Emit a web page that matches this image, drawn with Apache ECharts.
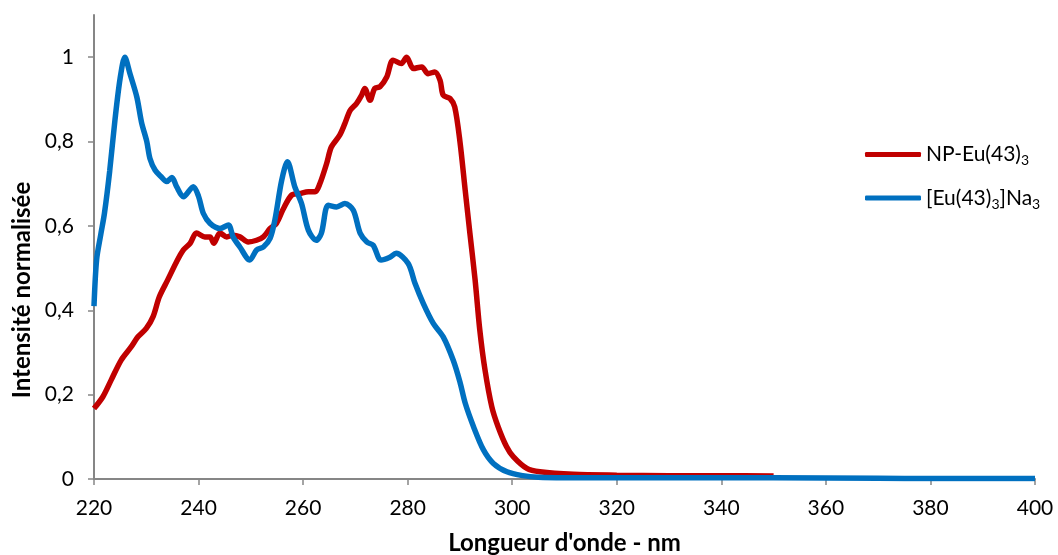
<!DOCTYPE html>
<html>
<head>
<meta charset="utf-8">
<script src="https://cdn.jsdelivr.net/npm/echarts@6/dist/echarts.min.js"></script>
<style>html,body{margin:0;padding:0;background:#fff}#c{width:1058px;height:555px}</style>
</head>
<body>
<div id="c"></div>
<script>
// NP-Eu(43)3 (red)
const redX = [220,221.7,223.3,225.2,227.1,228.4,230,231.3,232.5,234.1,235.8,237.1,238.4,239.6,241.2,242.2,242.9,244.1,245.4,246.6,247.9,249.5,251.1,252.4,253.7,254.9,256.2,257.8,259.4,261,262.3,263.2,264.5,265.4,267,268,269,270.2,271.2,271.8,272.8,273.7,274.7,276,277.2,278.8,279.8,281.1,282.7,283.9,285.2,286.2,286.8,288.1,289,290,291,291.9,292.9,293.8,294.8,296.1,297.3,298.9,300.2,302.8,305.3,311.7,320,330,340,350];
const redY = [0.167,0.195,0.235,0.282,0.313,0.337,0.357,0.385,0.432,0.472,0.515,0.543,0.559,0.583,0.574,0.574,0.559,0.583,0.574,0.578,0.574,0.562,0.566,0.574,0.594,0.606,0.64,0.673,0.677,0.681,0.681,0.70,0.748,0.787,0.815,0.843,0.874,0.89,0.91,0.926,0.898,0.926,0.93,0.953,0.993,0.985,1.0,0.973,0.977,0.961,0.965,0.945,0.91,0.902,0.882,0.80,0.685,0.583,0.472,0.353,0.258,0.171,0.124,0.077,0.053,0.025,0.017,0.011,0.009,0.008,0.008,0.007];
// [Eu(43)3]Na3 (blue)
const blueX = [220,220.5,221.3,222,223,224,225,225.9,226.9,228.2,229.1,230.1,230.7,231.7,232.9,233.9,234.9,235.8,237.1,239,240,240.9,242.2,244.1,245.7,246.6,247.9,249.8,251.1,252.4,253.7,254.6,255.9,257,258.4,259.7,261,262.5,263.5,264.8,266.4,268,269.6,270.9,272.2,273.4,274.9,276.5,277.8,280.1,281.4,283,284.9,286.8,288.7,290,291,292.6,294.5,296.4,299,302,305,310,330,350,370,380,400];
const blueY = [0.41,0.52,0.58,0.63,0.73,0.85,0.95,1.0,0.96,0.905,0.845,0.80,0.76,0.732,0.716,0.705,0.715,0.693,0.669,0.693,0.67,0.63,0.606,0.594,0.602,0.574,0.55,0.519,0.543,0.55,0.571,0.614,0.708,0.752,0.693,0.653,0.59,0.566,0.583,0.649,0.645,0.653,0.637,0.583,0.562,0.554,0.519,0.525,0.535,0.511,0.464,0.416,0.369,0.337,0.282,0.23,0.18,0.124,0.069,0.037,0.017,0.008,0.004,0.003,0.003,0.003,0.002,0.001,0.001];
const xTicks = [220,240,260,280,300,320,340,360,380,400];
const yTicks = [0,0.2,0.4,0.6,0.8,1];
const seriesNames = ['NP-Eu(43)3','[Eu(43)3]Na3'];
const legendRich = {
  'NP-Eu(43)3': '{n|NP-Eu(43)}{s|3}',
  '[Eu(43)3]Na3': '{n|[Eu(43)}{s|3}{n|]Na}{s|3}'
};

const pairs = (xs, ys) => xs.map((x, i) => [x, ys[i]]);
const FONT = 'Lato';
const chart = echarts.init(document.getElementById('c'));
chart.setOption({
  animation: false,
  backgroundColor: '#fff',
  textStyle: { fontFamily: FONT },
  grid: { left: 94, right: 23, top: 15, bottom: 76, containLabel: false, outerBoundsMode: 'none' },
  legend: {
    orient: 'vertical',
    left: 865,
    top: 144,
    padding: 0,
    itemWidth: 56,
    itemHeight: 5,
    itemGap: 20,
    icon: 'roundRect',
    data: seriesNames,
    formatter: name => legendRich[name],
    textStyle: {
      color: '#000',
      fontFamily: FONT,
      rich: {
        n: { fontSize: 21, lineHeight: 26, color: '#000', fontFamily: FONT },
        s: { fontSize: 14, lineHeight: 13, verticalAlign: 'bottom', color: '#000', fontFamily: FONT }
      }
    }
  },
  xAxis: {
    type: 'value',
    min: 220, max: 400, interval: 20,
    name: "Longueur d'onde - nm",
    nameLocation: 'middle',
    nameGap: 52,
    nameTextStyle: { fontSize: 24, fontWeight: 'bold', color: '#000', fontFamily: FONT },
    axisLine: { onZero: false, lineStyle: { color: '#868686', width: 2 } },
    axisTick: { show: true, length: 6, lineStyle: { color: '#868686', width: 1.5 } },
    axisLabel: { fontSize: 21, color: '#000', margin: 19, fontFamily: FONT, customValues: xTicks },
    splitLine: { show: false }
  },
  yAxis: {
    type: 'value',
    min: 0, max: 1.1,
    name: 'Intensité normalisée',
    nameLocation: 'middle',
    nameGap: 58,
    nameTextStyle: { fontSize: 24, fontWeight: 'bold', color: '#000', fontFamily: FONT, padding: [0, 86, 0, 0] },
    axisLine: { show: true, lineStyle: { color: '#868686', width: 2 } },
    axisTick: { show: true, length: 6, customValues: yTicks, lineStyle: { color: '#868686', width: 1.5 } },
    axisLabel: { fontSize: 21, color: '#000', margin: 20, fontFamily: FONT, customValues: yTicks,
      formatter: v => String(v).replace('.', ',') },
    splitLine: { show: false }
  },
  series: [
    {
      name: seriesNames[0], type: 'line', data: pairs(redX, redY),
      showSymbol: false, symbol: 'none', smooth: 0.3,
      lineStyle: { color: '#C00000', width: 5.5 }, itemStyle: { color: '#C00000' }
    },
    {
      name: seriesNames[1], type: 'line', data: pairs(blueX, blueY),
      showSymbol: false, symbol: 'none', smooth: 0.3,
      lineStyle: { color: '#0070C0', width: 5.5 }, itemStyle: { color: '#0070C0' }
    }
  ]
});
</script>
</body>
</html>
